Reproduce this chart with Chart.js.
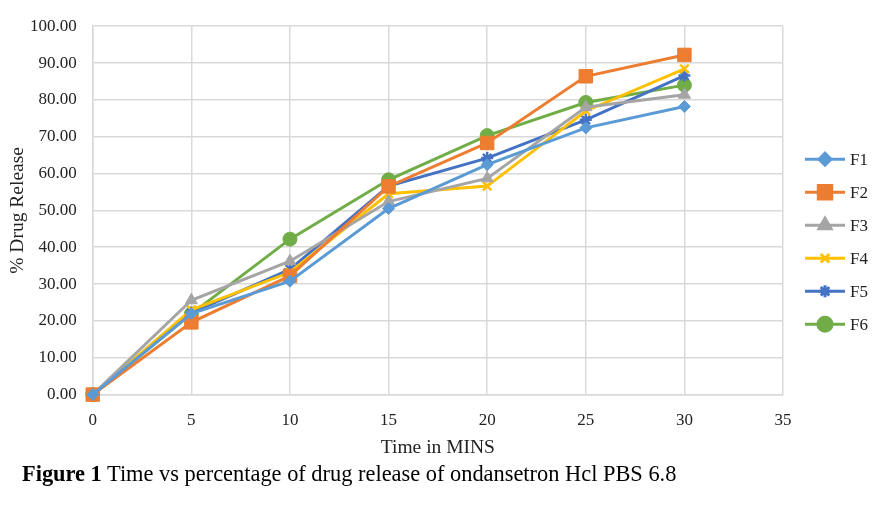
<!DOCTYPE html>
<html>
<head>
<meta charset="utf-8">
<script src="https://cdn.jsdelivr.net/npm/chart.js@4/dist/chart.umd.min.js"></script>
<style>
    body { margin: 0; background: #fff; }
    #wrap { position: relative; width: 888px; height: 510px; }
    #caption {
        position: absolute; left: 22px; top: 461px;
        font-family: 'Liberation Serif', 'Times New Roman', serif;
        font-size: 22.4px; color: #000; white-space: nowrap;
    }
</style>
</head>
<body>
<div id="wrap">
    <canvas id="releaseChart" width="888" height="510"></canvas>
    <div id="caption"><b>Figure 1</b> Time vs percentage of drug release of ondansetron Hcl PBS 6.8</div>
</div>
<script>
// Sampling times (min)
const times = [0, 5, 10, 15, 20, 25, 30];

// % drug release per formulation
const f1 = [0, 22.0, 30.8, 50.5, 62.4, 72.4, 78.2];
const f2 = [0, 19.6, 32.2, 56.5, 68.3, 86.4, 92.2];
const f3 = [0, 25.6, 36.2, 52.4, 58.7, 78.0, 81.4];
const f4 = [0, 23.0, 33.2, 54.5, 56.6, 77.0, 88.4];
const f5 = [0, 22.2, 34.0, 56.6, 64.2, 74.6, 86.6];
const f6 = [0, 21.9, 42.2, 58.3, 70.3, 79.3, 84.0];

const seriesNames = ['F1', 'F2', 'F3', 'F4', 'F5', 'F6'];
const seriesValues = [f1, f2, f3, f4, f5, f6];

const xTicks = [0, 5, 10, 15, 20, 25, 30, 35];
const yTicks = [0, 10, 20, 30, 40, 50, 60, 70, 80, 90, 100];

const xTitle = 'Time in MINS';
const yTitle = '% Drug Release';

// Styling
const colors = ['#5B9BD5', '#ED7D31', '#A5A5A5', '#FFC000', '#4472C4', '#70AD47'];
const markers = ['rectRot', 'rect', 'triangle', 'crossRot', 'star', 'circle'];
const markerSizes = [6, 9.5, 7, 6, 6, 7];

const serif = "'Liberation Serif', 'Times New Roman', serif";
Chart.defaults.font.family = serif;
Chart.defaults.color = '#222';

const datasets = seriesNames.map((name, i) => ({
    label: name,
    data: times.map((t, j) => ({ x: t, y: seriesValues[i][j] })),
    borderColor: colors[i],
    backgroundColor: colors[i],
    borderWidth: 3,
    pointStyle: markers[i],
    pointRadius: markerSizes[i],
    pointBorderWidth: (markers[i] === 'crossRot' || markers[i] === 'star') ? 2.5 : 1,
    tension: 0,
    clip: false
}));

// Axis titles + line/marker legend, drawn by hand
const extras = {
    id: 'extras',
    afterDraw(chart) {
        const { ctx, chartArea } = chart;
        ctx.save();
        ctx.fillStyle = '#222';
        ctx.font = '19.5px ' + serif;
        ctx.textAlign = 'center';
        ctx.textBaseline = 'middle';
        ctx.fillText(xTitle, (chartArea.left + chartArea.right) / 2, chartArea.bottom + 53);

        ctx.save();
        ctx.translate(18, (chartArea.top + chartArea.bottom) / 2);
        ctx.rotate(-Math.PI / 2);
        ctx.fillText(yTitle, 0, 0);
        ctx.restore();

        ctx.font = '17px ' + serif;
        const x0 = chartArea.right + 22;
        const yStart = chartArea.top + 133;
        chart.data.datasets.forEach((ds, i) => {
            const y = yStart + i * 33;
            ctx.strokeStyle = ds.borderColor;
            ctx.lineWidth = 3;
            ctx.beginPath();
            ctx.moveTo(x0, y);
            ctx.lineTo(x0 + 40, y);
            ctx.stroke();
            ctx.fillStyle = ds.backgroundColor;
            Chart.helpers.drawPoint(ctx, {
                pointStyle: ds.pointStyle,
                radius: ds.pointRadius,
                borderWidth: ds.pointBorderWidth,
                rotation: 0
            }, x0 + 20, y);
            ctx.fillStyle = '#222';
            ctx.textAlign = 'left';
            ctx.fillText(ds.label, x0 + 45, y + 1);
        });
        ctx.restore();
    }
};

new Chart(document.getElementById('releaseChart'), {
    type: 'line',
    data: { datasets },
    options: {
        responsive: false,
        animation: false,
        layout: { padding: { top: 14, right: 105, bottom: 63, left: 14 } },
        plugins: { legend: { display: false }, tooltip: { enabled: false } },
        scales: {
            x: {
                type: 'linear',
                min: xTicks[0],
                max: xTicks[xTicks.length - 1],
                afterBuildTicks: s => { s.ticks = xTicks.map(v => ({ value: v })); },
                grid: { color: '#d9d9d9', lineWidth: 1.5, drawTicks: false },
                border: { color: '#d9d9d9', width: 1.5 },
                ticks: { font: { size: 17 }, padding: 16 }
            },
            y: {
                min: yTicks[0],
                max: yTicks[yTicks.length - 1],
                afterBuildTicks: s => { s.ticks = yTicks.map(v => ({ value: v })); },
                grid: { color: '#d9d9d9', lineWidth: 1.5, drawTicks: false },
                border: { color: '#d9d9d9', width: 1.5 },
                ticks: { font: { size: 17 }, padding: 16, callback: v => v.toFixed(2) }
            }
        }
    },
    plugins: [extras]
});
</script>
</body>
</html>
